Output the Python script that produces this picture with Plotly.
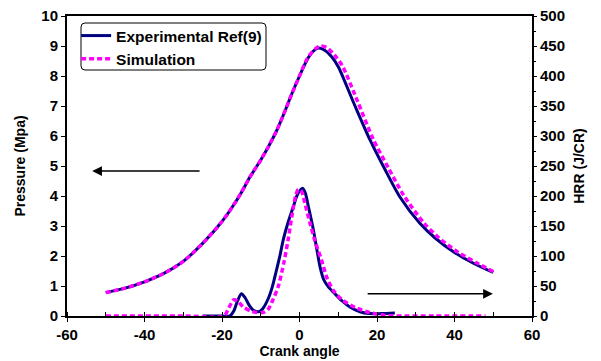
import plotly.graph_objects as go

# ---- data ----
p_exp_angle = [-50, -45, -40, -35, -30, -25, -20, -17, -15, -12.8, -10, -8, -6, -4, -2, 0, 2, 3.5, 4.9, 6.5, 8.3, 10, 14, 18.2, 22, 26, 31, 35, 40, 45, 50]
p_exp_val   = [0.78, 0.93, 1.14, 1.42, 1.82, 2.42, 3.15, 3.7, 4.12, 4.63, 5.2, 5.65, 6.15, 6.75, 7.4, 8.0, 8.55, 8.82, 8.93, 8.86, 8.64, 8.31, 7.1, 5.87, 4.9, 3.95, 3.1, 2.6, 2.12, 1.75, 1.45]

p_sim_angle = [-50, -45, -40, -35, -30, -25, -20, -17, -15, -12.8, -10, -8, -6, -4, -2, 0, 2, 4, 5.5, 7, 9, 11, 15, 19, 23, 27, 32, 36, 41, 46, 50]
p_sim_val   = [0.78, 0.93, 1.14, 1.42, 1.82, 2.42, 3.15, 3.7, 4.12, 4.63, 5.2, 5.65, 6.15, 6.75, 7.4, 8.0, 8.58, 8.9, 9.0, 8.95, 8.7, 8.35, 7.15, 5.9, 4.92, 4.0, 3.12, 2.6, 2.12, 1.75, 1.48]

hrr_exp_angle = [-25, -20, -18, -17, -16, -15, -14, -13, -12, -10.5, -9.5, -8, -7, -6, -5, -4.2, -3, -1.6, -0.5, 0.8, 1.5, 2.3, 3.6, 4.5, 5.3, 6.3, 7.4, 9, 11, 13, 15.6, 18, 21, 24.6]
hrr_exp_val   = [0, 0, 0, 8, 25, 37, 30, 18, 10, 7, 12, 30, 49, 75, 102, 127, 155, 182, 203, 213, 205, 182, 143, 110, 82, 60, 49, 38, 25, 15, 7, 4, 4, 5]

hrr_sim_angle = [-50, -30, -19.5, -18.5, -17, -16, -14.5, -12, -9.3, -8, -7, -5.5, -4, -3, -2, -1, -0.3, 0.5, 1.5, 2.7, 4, 5.7, 7, 8.7, 11, 14.8, 18, 22, 25, 35, 48]
hrr_sim_val   = [0, 0, 0, 10, 27, 25, 15, 7, 6, 12, 25, 49, 90, 125, 165, 200, 211, 208, 185, 155, 125, 93, 65, 43, 27, 13, 6, 1, 0, 0, 0]

x_ticks = [-60, -40, -20, 0, 20, 40, 60]
x_tick_labels = ["-60", "-40", "-20", "0", "20", "40", "60"]

NAVY = "#000080"
MAG = "#FF00FF"
FONT = "Liberation Sans"

fig = go.Figure()
fig.add_trace(go.Scatter(x=p_exp_angle, y=p_exp_val, mode="lines", name="Experimental Ref(9)",
                         line=dict(color=NAVY, width=3, shape="spline", smoothing=0.8), yaxis="y"))
fig.add_trace(go.Scatter(x=hrr_exp_angle, y=hrr_exp_val, mode="lines", showlegend=False,
                         line=dict(color=NAVY, width=3, shape="spline", smoothing=0.8), yaxis="y2"))
fig.add_trace(go.Scatter(x=p_sim_angle, y=p_sim_val, mode="lines", name="Simulation",
                         line=dict(color=MAG, width=3.5, dash="5px,3px", shape="spline", smoothing=0.8), yaxis="y"))
fig.add_trace(go.Scatter(x=hrr_sim_angle, y=hrr_sim_val, mode="lines", showlegend=False,
                         line=dict(color=MAG, width=3.5, dash="5px,3px", shape="spline", smoothing=0.8), yaxis="y2"))

tickfont = dict(family=FONT, size=15, color="black", weight="bold")
titlefont = dict(family=FONT, size=14, color="black", weight="bold")

L, R, T, B = 67, 69, 16, 45
W, H = 601, 361
PW, PH = W - L - R, H - T - B

fig.update_layout(
    width=W, height=H,
    margin=dict(l=L, r=R, t=T, b=B),
    paper_bgcolor="white", plot_bgcolor="white",
    xaxis=dict(range=[-60, 60], tickvals=x_ticks, ticktext=x_tick_labels, showgrid=False, zeroline=False,
               showline=True, linecolor="black", linewidth=2, mirror=True, automargin=False,
               ticks="outside", ticklen=4, tickcolor="black", tickwidth=1,
               minor=dict(dtick=10, tick0=-60, ticks="inside", ticklen=4, tickcolor="black"),
               tickfont=tickfont, title=dict(text="Crank angle", font=titlefont, standoff=4)),
    yaxis=dict(range=[0, 10], dtick=1, showgrid=False, zeroline=False, automargin=False,
               showline=True, linecolor="black", linewidth=2,
               ticks="outside", ticklen=4, tickcolor="black",
               tickfont=tickfont, title=dict(text="Pressure (Mpa)", font=titlefont, standoff=12)),
    yaxis2=dict(range=[0, 500], dtick=50, overlaying="y", side="right", showgrid=False, zeroline=False,
                showline=True, linecolor="black", linewidth=2, automargin=False,
                ticks="outside", ticklen=3, tickcolor="black",
                minor=dict(dtick=25, ticks="outside", ticklen=2, tickcolor="black"),
                tickfont=tickfont, title=dict(text="HRR (J/CR)", font=titlefont, standoff=10)),
    legend=dict(x=0.0196, y=0.99, xanchor="left", yanchor="top", bgcolor="rgba(0,0,0,0)",
                borderwidth=0, font=dict(family=FONT, size=15.5, color="black", weight="bold"),
                itemwidth=30, tracegroupgap=0),
    showlegend=True,
)

# rounded legend box (pixel rectangle converted to plot-area paper coords)
x0, x1, y0, y1, r = 81, 266, 23, 70, 4
def px(x): return (x - L) / PW
def py(y): return 1 - (y - T) / PH
path = (f"M {px(x0+r)},{py(y0)} L {px(x1-r)},{py(y0)} Q {px(x1)},{py(y0)} {px(x1)},{py(y0+r)} "
        f"L {px(x1)},{py(y1-r)} Q {px(x1)},{py(y1)} {px(x1-r)},{py(y1)} L {px(x0+r)},{py(y1)} "
        f"Q {px(x0)},{py(y1)} {px(x0)},{py(y1-r)} L {px(x0)},{py(y0+r)} Q {px(x0)},{py(y0)} {px(x0+r)},{py(y0)} Z")
fig.add_shape(type="path", path=path, xref="paper", yref="paper", line=dict(color="black", width=1))

# arrows
fig.add_annotation(x=-53.5, y=4.83, ax=-25.4, ay=4.83, xref="x", yref="y", axref="x", ayref="y",
                   text="", showarrow=True, arrowhead=2, arrowsize=1.3, arrowwidth=1.5, arrowcolor="black")
fig.add_annotation(x=49.9, y=37, ax=17.2, ay=37, xref="x", yref="y2", axref="x", ayref="y2",
                   text="", showarrow=True, arrowhead=2, arrowsize=1.3, arrowwidth=1.5, arrowcolor="black")

fig.write_html("out.html", config={"displayModeBar": False},
               post_script="document.body.style.margin='0px';document.body.style.overflow='hidden';")
